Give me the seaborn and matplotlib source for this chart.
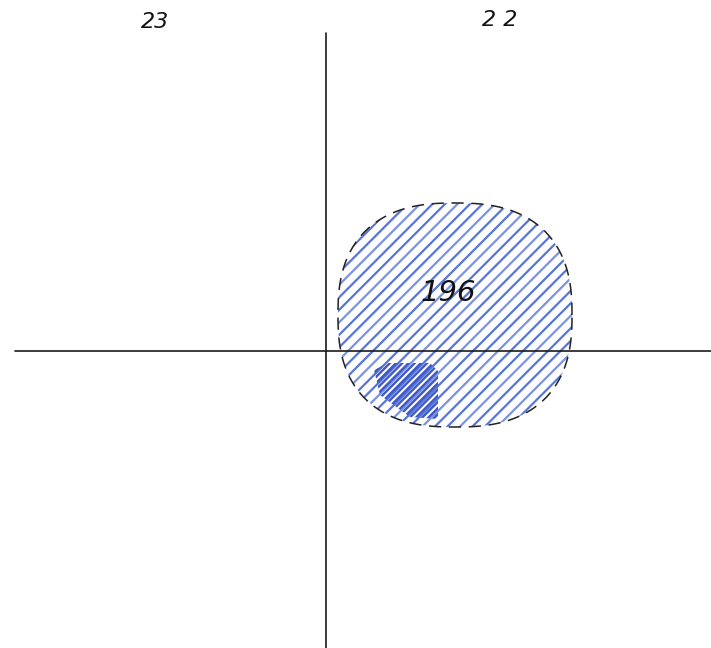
import numpy as np
import pandas as pd
import matplotlib
matplotlib.use('Agg')
import matplotlib.pyplot as plt
from matplotlib.patches import Polygon
import seaborn as sns

# quadrant numbers written above the diagram (origin = crossing of the axes)
quadrant_labels = ["23", "2 2"]
quadrant_x = [-171, 174]
quadrant_y = [329, 331]

# axis cross
h_axis_x = [-311, 385]
v_axis_y = [-297, 318]

# blob (rounded square) in quadrant 22
blob_label = "196"
blob_center = (129, 36)
blob_radii = (117, 112)
blob_roundness = 2.5
label_pos = (122, 58)

# darker, densely hatched patch in the lower-left of the blob
dense_x = [48, 62, 104, 112, 112, 84, 54]
dense_y = [-19, -12, -12, -20, -68, -66, -44]

sns.set_style("white")
fig = plt.figure(figsize=(7.11, 6.48), dpi=100)
ax = fig.add_axes([0, 0, 1, 1])
ax.set_xlim(-326, 385)
ax.set_ylim(-297, 351)
ax.set_axis_off()

# blob outline
t = np.linspace(0, 2 * np.pi, 400)
c, s = np.cos(t), np.sin(t)
e = 2.0 / blob_roundness
bx = blob_center[0] + blob_radii[0] * np.sign(c) * np.abs(c) ** e
by = blob_center[1] + blob_radii[1] * np.sign(s) * np.abs(s) ** e
blob = Polygon(np.column_stack([bx, by]), closed=True, facecolor='none',
               edgecolor='#222222', linewidth=1.1, linestyle=(0, (8, 5)), zorder=4)
ax.add_patch(blob)

# diagonal hatching clipped to the blob
offsets = np.arange(blob_center[1] - blob_radii[1] - blob_center[0] - blob_radii[0],
                    blob_center[1] + blob_radii[1] - blob_center[0] + blob_radii[0], 12.5)
xs = np.array([blob_center[0] - 130, blob_center[0] + 130])
for k, off in enumerate(offsets):
    line, = ax.plot(xs, xs + off, color='#4566d8', lw=1.6,
                    alpha=0.9 if k % 3 else 0.7, solid_capstyle='round', zorder=2)
    line.set_clip_path(blob)

dense = Polygon(np.column_stack([dense_x, dense_y]), closed=True, facecolor='none',
                edgecolor='none')
ax.add_patch(dense)
for off in np.arange(-200, 0, 6.2):
    line, = ax.plot(xs, xs + off, color='#3550c4', lw=1.7, alpha=0.95,
                    solid_capstyle='round', zorder=3)
    line.set_clip_path(dense)

# axis cross
cross = pd.DataFrame({"x": h_axis_x, "y": [0, 0]})
sns.lineplot(data=cross, x="x", y="y", color='#1a1a1a', lw=1.2, ax=ax, zorder=5)
cross = pd.DataFrame({"x": [0, 0], "y": v_axis_y})
sns.lineplot(data=cross, x="x", y="y", color='#1a1a1a', lw=1.2, ax=ax,
             orient="y", zorder=5)

ax.text(label_pos[0], label_pos[1], blob_label, fontsize=21, style='italic',
        ha='center', va='center', color='#111111', zorder=6)
for lab, x, y in zip(quadrant_labels, quadrant_x, quadrant_y):
    ax.text(x, y, lab, fontsize=16, style='italic', ha='center', va='center',
            color='#111111')

fig.savefig("out.png", dpi=100, facecolor='white')
